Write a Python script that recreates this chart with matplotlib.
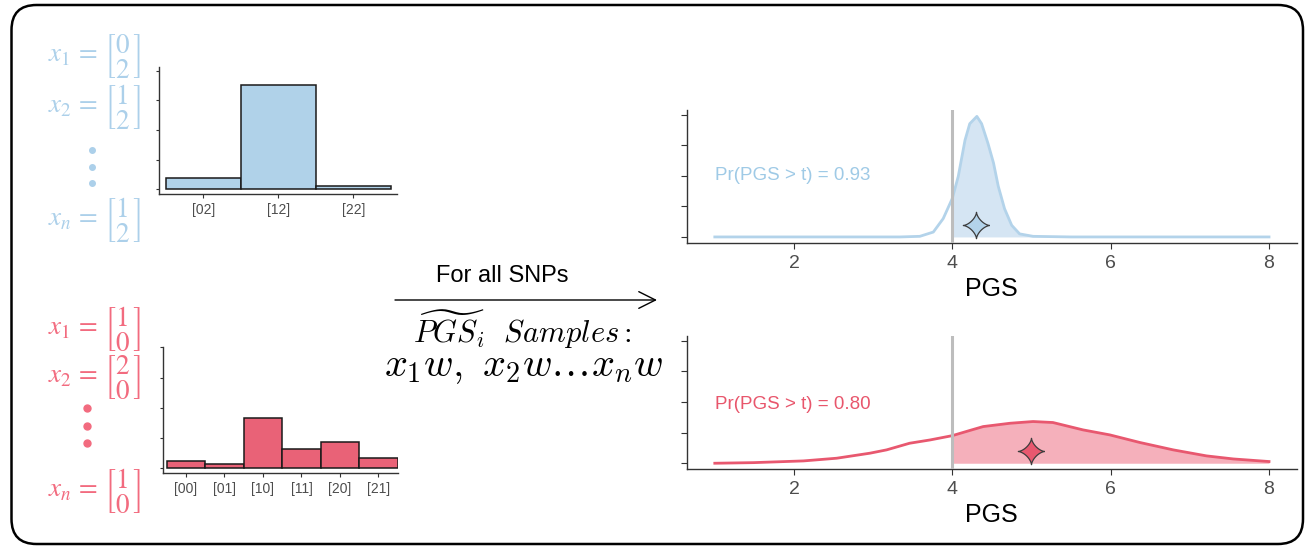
import numpy as np
import matplotlib.pyplot as plt
from matplotlib.patches import FancyBboxPatch

plt.rcParams["font.family"] = ["Liberation Sans", "DejaVu Sans"]

# genotype frequencies for the two example individuals
geno_blue = ["[02]", "[12]", "[22]"]
freq_blue = [0.095, 0.88, 0.025]
geno_red = ["[00]", "[01]", "[10]", "[11]", "[20]", "[21]"]
freq_red = [0.061, 0.033, 0.42, 0.163, 0.217, 0.083]

# sampled genotype vectors (index, top, bottom)
vec_blue = [("1", "0", "2"), ("2", "1", "2"), ("n", "1", "2")]
vec_red = [("1", "1", "0"), ("2", "2", "0"), ("n", "1", "0")]

# PGS sample densities
pgs_blue = np.array([1.0, 2.0, 3.0, 3.34, 3.59, 3.76, 3.885, 4.0, 4.075, 4.16, 4.22,
                     4.31, 4.37, 4.45, 4.52, 4.58, 4.66, 4.75, 4.85, 5.02, 5.5, 6.5, 8.0])
dens_blue = np.array([0.0, 0.0, 0.0, 0.0, 0.01, 0.08, 0.30, 0.63, 0.99, 1.58, 1.85,
                      1.97, 1.85, 1.53, 1.21, 0.83, 0.46, 0.19, 0.05, 0.01, 0.0, 0.0, 0.0])
pgs_red = np.array([1.0, 1.49, 2.12, 2.54, 2.96, 3.17, 3.46, 3.72, 4.0, 4.22, 4.39, 4.73,
                    5.02, 5.27, 5.65, 5.99, 6.37, 6.79, 7.21, 7.55, 8.0])
dens_red = np.array([0.0, 0.005, 0.019, 0.041, 0.082, 0.109, 0.163, 0.19, 0.225, 0.267, 0.299,
                     0.326, 0.34, 0.332, 0.272, 0.231, 0.169, 0.109, 0.06, 0.035, 0.014])
est_blue = (4.3, 0.2)
est_red = (5.0, 0.10)
threshold = 4
prob_blue = 0.93
prob_red = 0.80

BLUE_LAB = "#acd0ea"
BLUE_BAR = "#b0d2e9"
BLUE_LINE = "#b3d3ea"
BLUE_FILL = "#d5e5f3"
BLUE_TXT = "#9fcae6"
RED_LAB = "#f26b7f"
RED_BAR = "#e96277"
RED_LINE = "#e8586f"
RED_FILL = "#f5b0bb"
RED_TXT = "#e8566c"
TICK = "#4d4d4d"

# 4 pointed star marker
t = np.linspace(0, 2 * np.pi, 81)
star = np.column_stack([np.cos(t) ** 3, np.sin(t) ** 3])

fig = plt.figure(figsize=(13.06, 5.46), dpi=100)

# overlay in pixel coords for the diagram bits
ov = fig.add_axes([0, 0, 1, 1])
ov.set_xlim(0, 1306)
ov.set_ylim(546, 0)
ov.axis("off")
ov.add_patch(FancyBboxPatch((11.5, 5), 1291.5, 539, boxstyle="round,pad=0,rounding_size=25",
                            fc="white", ec="black", lw=1.8))


def vec_text(y, v, color):
    ov.text(48, y, r"$x_{%s}\,=\,\genfrac{[}{]}{0}{0}{%s}{%s}$" % v, color=color,
            fontsize=19.5, math_fontfamily="stix", ha="left", va="center")


for y, v in zip([57, 107, 220], vec_blue):
    vec_text(y, v, BLUE_LAB)
for y, v in zip([329, 378, 491], vec_red):
    vec_text(y, v, RED_LAB)
ov.plot([91.7] * 3, [150, 166.7, 183.3], "o", ms=4, color=BLUE_LAB)
ov.plot([86.7] * 3, [408.3, 426, 443.3], "o", ms=5, color=RED_LAB)

ov.annotate("", xy=(657, 300), xytext=(395, 300),
            arrowprops=dict(arrowstyle="->,head_length=0.6,head_width=0.3", lw=1.0,
                            color="black", mutation_scale=20, shrinkA=0, shrinkB=0))
ov.text(502.5, 276, "For all SNPs", ha="center", va="center", fontsize=17)
ov.text(522.5, 330, r"$\widetilde{PGS}_i\ \ Samples:$", math_fontfamily="cm",
        fontsize=22, ha="center", va="center")
ov.text(524, 367, r"$x_1w,\ x_2w\ldots x_nw$", math_fontfamily="cm",
        fontsize=29, ha="center", va="center")


def style_hist(ax):
    ax.set_facecolor("none")
    for s in ["top", "right"]:
        ax.spines[s].set_visible(False)
    for s in ["left", "bottom"]:
        ax.spines[s].set_linewidth(1.0)
        ax.spines[s].set_color("#333333")
    ax.set_yticks([0, 0.25, 0.5, 0.75, 1.0])
    ax.set_yticklabels([])
    ax.tick_params(axis="y", length=2.2, color="#333333")
    ax.tick_params(axis="x", length=3, color="#333333", labelsize=10, labelcolor=TICK, pad=3.5)


ax1 = fig.add_axes([0.1215, 0.6447, 0.1822, 0.2332])
ax1.bar(range(len(freq_blue)), freq_blue, width=1, color=BLUE_BAR, edgecolor="#1a1a1a", lw=1.1)
ax1.set_xticks(range(len(geno_blue)))
ax1.set_xticklabels(geno_blue)
ax1.set_xlim(-0.597, 2.58)
ax1.set_ylim(-0.04, 1.034)
style_hist(ax1)

ax2 = fig.add_axes([0.1246, 0.1342, 0.1805, 0.2308])
ax2.bar(range(len(freq_red)), freq_red, width=1, color=RED_BAR, edgecolor="#1a1a1a", lw=1.1)
ax2.set_xticks(range(len(geno_red)))
ax2.set_xticklabels(geno_red)
ax2.set_xlim(-0.604, 5.52)
ax2.set_ylim(-0.036, 1.005)
style_hist(ax2)


def density(ax, x, y, est, prob, line, fill, txt, ytop, txt_y):
    ax.set_facecolor("none")
    ax.fill_between(x, y, where=x >= threshold, color=fill, lw=0, zorder=1)
    ax.plot(x, y, color=line, lw=2, zorder=2)
    ax.axvline(threshold, color="#bdbdbd", lw=2.2, zorder=3)
    ax.plot(est[0], est[1], marker=star, ms=19, mfc=line, mec="#3c3c3c", mew=0.9, zorder=4)
    ax.text(1.0, txt_y, "Pr(PGS > t) = %.2f" % prob, color=txt, fontsize=13.5,
            ha="left", va="center")
    ax.set_xlim(0.645, 8.35)
    ax.set_ylim(-0.047 * ytop, 1.037 * ytop)
    ax.set_xticks([2, 4, 6, 8])
    ax.set_yticks(np.linspace(0, ytop, 5))
    ax.set_yticklabels([])
    for s in ["top", "right"]:
        ax.spines[s].set_visible(False)
    for s in ["left", "bottom"]:
        ax.spines[s].set_linewidth(1.0)
        ax.spines[s].set_color("#333333")
    ax.tick_params(length=4.5, color="#333333", labelsize=14, labelcolor=TICK, pad=4)
    ax.set_xlabel("PGS", fontsize=18, labelpad=4)


ax3 = fig.add_axes([0.5258, 0.5555, 0.4671, 0.243])
density(ax3, pgs_blue, dens_blue, est_blue, prob_blue, BLUE_LINE, BLUE_FILL, BLUE_TXT, 2.0, 1.0)

ax4 = fig.add_axes([0.5258, 0.141, 0.4671, 0.2436])
density(ax4, pgs_red, dens_red, est_red, prob_red, RED_LINE, RED_FILL, RED_TXT, 1.0, 0.48)

fig.savefig("out.png", dpi=100)
